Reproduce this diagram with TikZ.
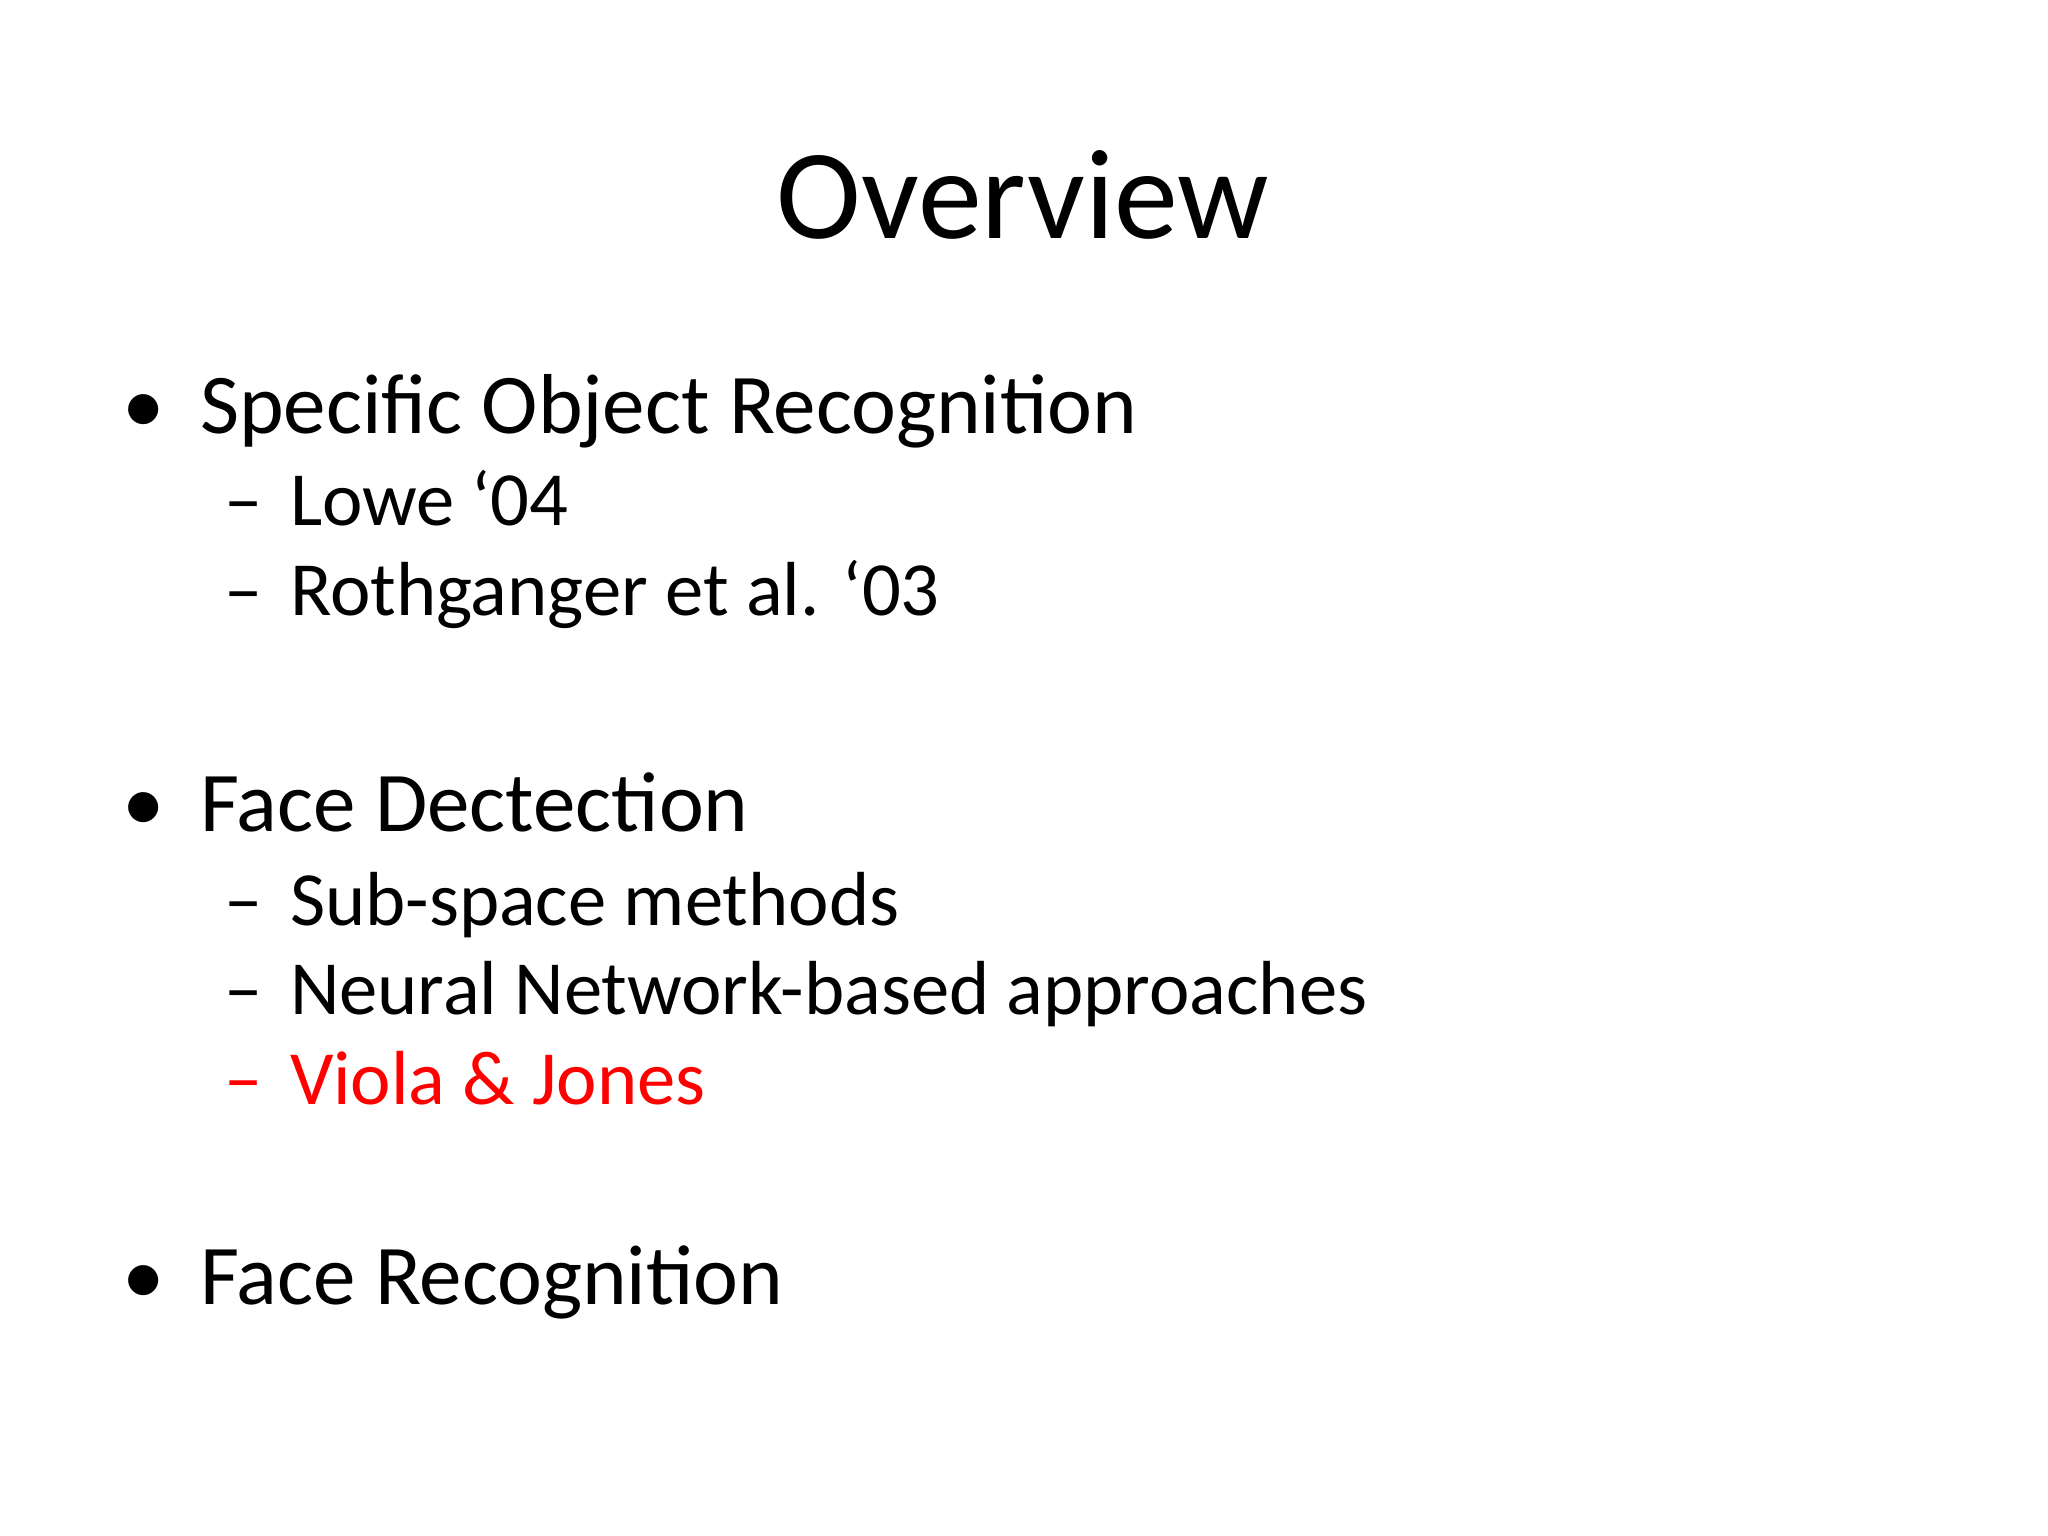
\documentclass[tikz,border=0pt]{standalone}
\usepackage{fontspec}
\setmainfont{Carlito}
\begin{document}
\begin{tikzpicture}[
  every node/.style={inner sep=0pt,outer sep=0pt,anchor=base west},
  lone/.style={font=\fontsize{24.2}{29}\selectfont},
  ltwo/.style={font=\fontsize{21.8}{26}\selectfont}]
\useasboundingbox (0,0) rectangle (20.48,15.36);
\node[anchor=base,font=\fontsize{36.4}{44}\selectfont] (title) at (10.23,15.36-2.39) {Overview};
\node[lone] (b1) at (1.22,15.36-4.34) {•};
\node[lone] (t1) at (2.00,15.36-4.34) {Specific Object Recognition};
\node[ltwo] (d11) at (2.25,15.36-5.26) {–};
\node[ltwo] (t11) at (2.90,15.36-5.26) {Lowe ‘04};
\node[ltwo] (d12) at (2.25,15.36-6.16) {–};
\node[ltwo] (t12) at (2.90,15.36-6.16) {Rothganger et al. ‘03};
\node[lone] (b2) at (1.22,15.36-8.32) {•};
\node[lone] (t2) at (2.00,15.36-8.32) {Face Dectection};
\node[ltwo] (d21) at (2.25,15.36-9.26) {–};
\node[ltwo] (t21) at (2.90,15.36-9.26) {Sub-space methods};
\node[ltwo] (d22) at (2.25,15.36-10.15) {–};
\node[ltwo] (t22) at (2.90,15.36-10.15) {Neural Network-based approaches};
\node[ltwo,text=red] (d23) at (2.25,15.36-11.05) {–};
\node[ltwo,text=red] (t23) at (2.90,15.36-11.05) {Viola \& Jones};
\node[lone] (b3) at (1.22,15.36-13.05) {•};
\node[lone] (t3) at (2.00,15.36-13.05) {Face Recognition};
\end{tikzpicture}
\end{document}
